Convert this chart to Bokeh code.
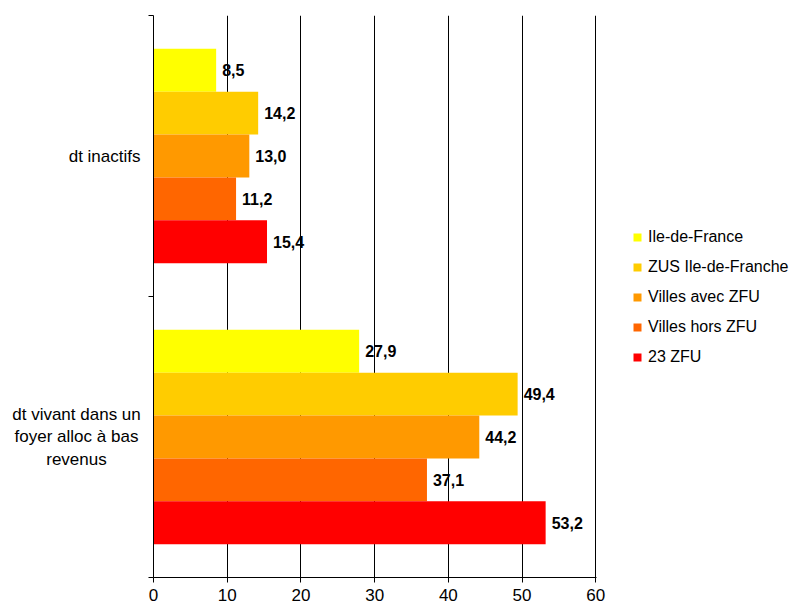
from bokeh.plotting import figure
from bokeh.models import ColumnDataSource, Legend, LegendItem, FixedTicker, Range1d
from bokeh.layouts import row
from bokeh.core.properties import value
from bokeh.embed import file_html
from bokeh.resources import INLINE

# ---- data ----
categories = ["dt inactifs", "dt vivant dans un\nfoyer alloc à bas\nrevenus"]
series_names = ["Ile-de-France", "ZUS Ile-de-Franche", "Villes avec ZFU", "Villes hors ZFU", "23 ZFU"]
ile_de_france = [8.5, 27.9]
zus_idf = [14.2, 49.4]
villes_avec_zfu = [13.0, 44.2]
villes_hors_zfu = [11.2, 37.1]
zfu_23 = [15.4, 53.2]
series_values = [ile_de_france, zus_idf, villes_avec_zfu, villes_hors_zfu, zfu_23]
x_ticks = [0, 10, 20, 30, 40, 50, 60]

colors = ["#FFFF00", "#FFCC00", "#FF9900", "#FF6600", "#FF0000"]
FONT = "Liberation Sans"

H = 608
TOP, BOTTOM = 15, 31
n_cat = len(categories)
n_ser = len(series_names)
y_range = Range1d(0, n_cat)

p = figure(width=463, height=H, output_backend="svg", toolbar_location=None,
           x_range=Range1d(0, 60.1), y_range=y_range,
           min_border_left=6, min_border_right=14, min_border_top=TOP, min_border_bottom=BOTTOM)
p.outline_line_color = None
p.background_fill_color = "white"
p.border_fill_color = "white"

bar_h = 0.1525
# category index 0 at top
cat_centers = [n_cat - 0.5 - i for i in range(n_cat)]

for s, (name, vals) in enumerate(zip(series_names, series_values)):
    ys = [c + ((n_ser - 1) / 2 - s) * bar_h for c in cat_centers]
    labels = [f"{v:.1f}".replace(".", ",") for v in vals]
    src = ColumnDataSource(dict(y=ys, right=vals, lab=labels))
    p.hbar(y="y", left=0, right="right", height=bar_h, source=src,
           fill_color=colors[s], line_color=None)
    p.text(x="right", y="y", text="lab", source=src, x_offset=6,
           text_baseline="middle", text_align="left", text_font=value(FONT),
           text_font_size="16px", text_font_style="bold", text_color="#000000")

# x axis
xa = p.xaxis[0]
xa.ticker = FixedTicker(ticks=x_ticks)
xa.axis_line_color = "#000000"
xa.major_tick_line_color = "#000000"
xa.major_tick_out = 5
xa.major_tick_in = 0
xa.minor_tick_line_color = None
xa.major_label_text_font = FONT
xa.major_label_text_font_size = "17px"
xa.major_label_text_color = "#000000"
xa.major_label_standoff = 6

# y axis: only tick marks at category boundaries (labels drawn in a side panel)
ya = p.yaxis[0]
ya.ticker = FixedTicker(ticks=[], minor_ticks=list(range(n_cat + 1)))
ya.major_label_standoff = 0
ya.axis_line_color = "#000000"
ya.major_tick_line_color = None
ya.major_tick_out = 0
ya.major_tick_in = 0
ya.minor_tick_line_color = "#000000"
ya.minor_tick_out = 5
ya.minor_tick_in = 0

p.xgrid.ticker = FixedTicker(ticks=x_ticks[1:])
p.xgrid.grid_line_color = "#000000"
p.xgrid.grid_line_width = 1
p.ygrid.grid_line_color = None

# category label panel (x in px of this panel)
cf = figure(width=147, height=H, output_backend="svg", toolbar_location=None,
            x_axis_type=None, y_axis_type=None,
            min_border_left=0, min_border_right=0, min_border_top=TOP, min_border_bottom=BOTTOM,
            x_range=Range1d(0, 147), y_range=y_range)
cf.outline_line_color = None
cf.xgrid.grid_line_color = None
cf.ygrid.grid_line_color = None
single = [(c, t) for c, t in zip(cat_centers, categories) if "\n" not in t]
multi = [(c, t) for c, t in zip(cat_centers, categories) if "\n" in t]
if single:
    cf.text(x=[140] * len(single), y=[c for c, _ in single], text=[t for _, t in single],
            text_align="right", text_baseline="middle", text_font=value(FONT),
            text_font_size="17px", text_color="#000000")
if multi:
    cf.text(x=[76] * len(multi), y=[c for c, _ in multi], text=[t for _, t in multi],
            text_align="center", text_baseline="middle", text_font=value(FONT),
            text_font_size="17px", text_color="#000000", text_line_height=1.2)

# legend panel
lf = figure(width=185, height=H, output_backend="svg", toolbar_location=None,
            x_axis_type=None, y_axis_type=None, min_border=0,
            x_range=Range1d(0, 1), y_range=Range1d(0, 1))
lf.outline_line_color = None
lf.xgrid.grid_line_color = None
lf.ygrid.grid_line_color = None
items = []
for name, col in zip(series_names, colors):
    r = lf.hbar(y=[0.5], left=[0], right=[0], height=0, fill_color=col, line_color=None)
    items.append(LegendItem(label=name, renderers=[r]))
legend = Legend(items=items, location=(22, 210), orientation="vertical",
                glyph_width=10, glyph_height=10, label_standoff=6, label_height=20,
                spacing=10, padding=0, margin=0,
                label_text_font=FONT, label_text_font_size="16px", label_text_color="#000000",
                border_line_color=None, background_fill_alpha=0)
lf.add_layout(legend, "center")

layout = row(cf, p, lf, spacing=0)
open("out.html", "w").write(file_html(layout, INLINE))
